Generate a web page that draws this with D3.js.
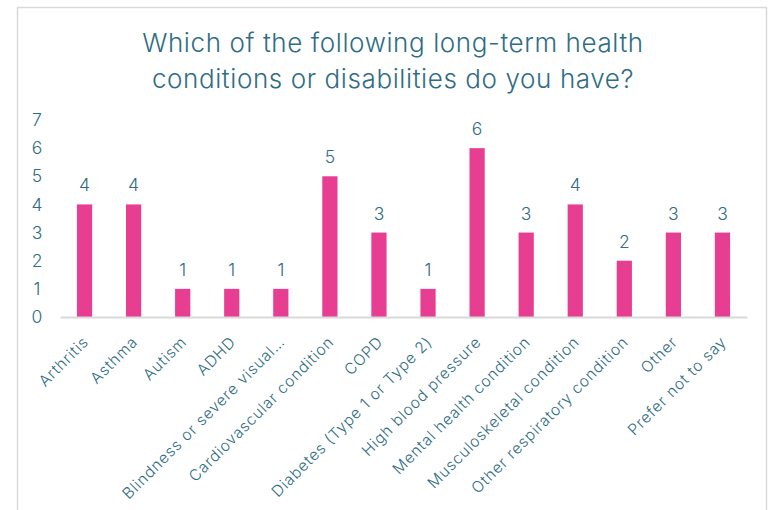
<!DOCTYPE html>
<html>
<head>
<meta charset="utf-8">
<script src="https://cdn.jsdelivr.net/npm/d3@7"></script>
<style>
  html, body { margin: 0; padding: 0; background: #fff; }
  svg { display: block; }
  text { font-family: Inter, "Open Sans", sans-serif; font-weight: 300; fill: #2f6d84; }
</style>
</head>
<body>
<svg id="chart" width="771" height="510"></svg>
<script>
// Survey responses: long-term health conditions
const categories = [
  "Arthritis", "Asthma", "Autism", "ADHD", "Blindness or severe visual…",
  "Cardiovascular condition", "COPD", "Diabetes (Type 1 or Type 2)",
  "High blood pressure", "Mental health condition", "Musculoskeletal condition",
  "Other respiratory condition", "Other", "Prefer not to say"
];
const counts = [4, 4, 1, 1, 1, 5, 3, 1, 6, 3, 4, 2, 3, 3];
const yTicks = [0, 1, 2, 3, 4, 5, 6, 7];
const titleLines = [
  "Which of the following long-term health",
  "conditions or disabilities do you have?"
];

const svg = d3.select("#chart");
const W = 771, H = 510;
const margin = { left: 60, right: 24, top: 120, bottom: 193 };
const textColor = "#2f6d84";

// Frame around the chart area
svg.append("rect")
  .attr("x", 17.5).attr("y", 7.5)
  .attr("width", 749).attr("height", 520)
  .attr("fill", "#fff")
  .attr("stroke", "#d9d9d9").attr("stroke-width", 1.5);

// Title
const title = svg.append("text")
  .attr("text-anchor", "middle")
  .style("font-size", "26px");
title.selectAll("tspan").data(titleLines).join("tspan")
  .attr("x", 393).attr("y", (d, i) => 52 + i * 36)
  .style("letter-spacing", "0.6px")
  .text(d => d);

const x = d3.scaleBand()
  .domain(categories)
  .range([margin.left, W - margin.right])
  .paddingInner(0.69).paddingOuter(0.345);

const y = d3.scaleLinear()
  .domain([0, 7])
  .range([H - margin.bottom, margin.top]);

// Y axis labels (no line, no ticks)
const yAxis = svg.append("g")
  .attr("transform", "translate(37,0)")
  .call(d3.axisLeft(y).tickValues(yTicks).tickFormat(d3.format("d")).tickSize(0).tickPadding(0));
yAxis.select(".domain").remove();
yAxis.selectAll("text")
  .attr("text-anchor", "middle")
  .style("font-size", "17.5px")
  .style("font-family", "Inter, sans-serif")
  .attr("fill", textColor);

// Bars
svg.append("g").selectAll("rect")
  .data(counts).join("rect")
  .attr("x", (d, i) => x(categories[i]))
  .attr("y", d => y(d))
  .attr("width", x.bandwidth())
  .attr("height", d => y(0) - y(d))
  .attr("fill", "#e83e92");

// Value labels
svg.append("g").selectAll("text")
  .data(counts).join("text")
  .attr("x", (d, i) => x(categories[i]) + x.bandwidth() / 2)
  .attr("y", d => y(d) - 13)
  .attr("text-anchor", "middle")
  .style("font-size", "17.5px")
  .text(d => d);

// X axis baseline and rotated category labels
const xAxis = svg.append("g")
  .attr("transform", `translate(0,${y(0)})`)
  .call(d3.axisBottom(x).tickSize(0).tickPadding(0));
xAxis.select(".domain").attr("stroke", "#d9d9d9").attr("stroke-width", 2);
xAxis.selectAll("text")
  .style("font-size", "15.5px")
  .style("font-family", "Inter, sans-serif")
  .style("letter-spacing", "0.8px")
  .attr("fill", textColor)
  .attr("text-anchor", "end")
  .attr("dy", "0")
  .attr("transform", "translate(5,26) rotate(-45)");
</script>
</body>
</html>
